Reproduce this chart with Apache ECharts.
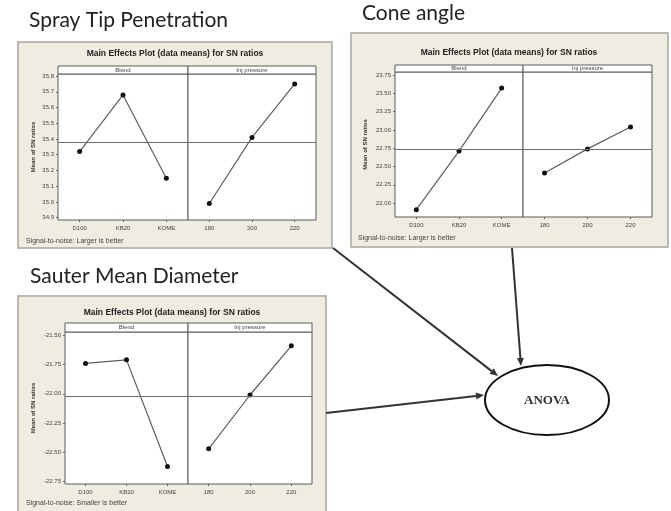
<!DOCTYPE html>
<html>
<head>
<meta charset="utf-8">
<script src="https://cdn.jsdelivr.net/npm/echarts@6/dist/echarts.min.js"></script>
<style>
  body { margin: 0; background: #fff; }
  #main { width: 671px; height: 511px; }
</style>
</head>
<body>
<div id="main"></div>
<script>
// factor levels
const blendLevels = ['D100', 'KB20', 'KOME']
const pressureLevels = ['180', '200', '220']

// SN ratio means
const stpBlend = [35.32, 35.68, 35.15]
const stpPressure = [34.99, 35.41, 35.75]
const coneBlend = [21.91, 22.71, 23.57]
const conePressure = [22.41, 22.74, 23.04]
const smdBlend = [-21.74, -21.71, -22.62]
const smdPressure = [-22.47, -22.01, -21.59]

// y tick labels
const stpTicks = [34.9, 35.0, 35.1, 35.2, 35.3, 35.4, 35.5, 35.6, 35.7, 35.8]
const coneTicks = [22.0, 22.25, 22.5, 22.75, 23.0, 23.25, 23.5, 23.75]
const smdTicks = [-22.75, -22.5, -22.25, -22.0, -21.75, -21.5]

const small = 'Liberation Sans'

function mean(arr) {
  return arr.reduce((a, b) => a + b, 0) / arr.length
}

// one panel = two grids (Blend | Inj pressure)
const panels = [
  {
    blend: stpBlend, pressure: stpPressure, ticks: stpTicks, dec: 1,
    min: 34.885, max: 35.813, gap: 22,
    left: { left: 58, top: 74, width: 130, height: 146 },
    right: { left: 188, top: 74, width: 128, height: 146 },
    stripTop: 66
  },
  {
    blend: coneBlend, pressure: conePressure, ticks: coneTicks, dec: 2,
    min: 21.81, max: 23.79, gap: 27,
    left: { left: 395, top: 72, width: 128, height: 145 },
    right: { left: 523, top: 72, width: 129, height: 145 },
    stripTop: 65
  },
  {
    blend: smdBlend, pressure: smdPressure, ticks: smdTicks, dec: 2,
    min: -22.77, max: -21.472, gap: 29,
    left: { left: 65, top: 332, width: 123, height: 152 },
    right: { left: 188, top: 332, width: 124, height: 152 },
    stripTop: 323
  }
]

const grid = []
const xAxis = []
const yAxis = []
const series = []
const graphic = []

panels.forEach((p, i) => {
  const grand = mean(p.blend.concat(p.pressure))
  ;[['left', p.blend, blendLevels], ['right', p.pressure, pressureLevels]].forEach((side, k) => {
    const idx = i * 2 + k
    grid.push(Object.assign({
      show: true, backgroundColor: '#fff', borderColor: '#5a5a5a', borderWidth: 1
    }, p[side[0]]))
    xAxis.push({
      type: 'category', gridIndex: idx, data: side[2], boundaryGap: true,
      axisLine: { show: false },
      axisTick: { show: true, alignWithLabel: true, length: 2, lineStyle: { color: '#666' } },
      axisLabel: { fontSize: 6, color: '#444', fontFamily: small, margin: 5 }
    })
    yAxis.push({
      type: 'value', gridIndex: idx, min: p.min, max: p.max, show: k === 0,
      name: k === 0 ? 'Mean of SN ratios' : '',
      nameLocation: 'middle', nameRotate: 90, nameGap: p.gap,
      nameTextStyle: { fontSize: 6, fontWeight: 'bold', color: '#333', fontFamily: small },
      splitLine: { show: false },
      axisLine: { show: false },
      axisTick: { show: true, length: 2, customValues: p.ticks, lineStyle: { color: '#666' } },
      axisLabel: {
        fontSize: 6, color: '#444', fontFamily: small, margin: 4,
        customValues: p.ticks,
        formatter: v => v.toFixed(p.dec)
      }
    })
    series.push({
      type: 'line', xAxisIndex: idx, yAxisIndex: idx, data: side[1],
      symbol: 'circle', symbolSize: 5, silent: true,
      lineStyle: { color: '#5e5e5e', width: 1.2 },
      itemStyle: { color: '#111' },
      markLine: {
        silent: true, symbol: 'none', label: { show: false },
        lineStyle: { color: '#6e6e6e', width: 1, type: 'solid' },
        data: [{ yAxis: grand }]
      }
    })
    // header strip above each grid
    const g = p[side[0]]
    graphic.push({
      type: 'rect', z: 5,
      shape: { x: g.left, y: p.stripTop, width: g.width, height: g.top - p.stripTop },
      style: { fill: '#fff', stroke: '#5a5a5a', lineWidth: 1 }
    })
    graphic.push({
      type: 'text', z: 6,
      style: {
        text: k === 0 ? 'Blend' : 'Inj pressure', x: g.left + g.width / 2,
        y: (p.stripTop + g.top) / 2, align: 'center', verticalAlign: 'middle',
        fontSize: 6, fill: '#444', fontFamily: small
      }
    })
  })
})

// panel frames, titles, footers
const frames = [
  { x: 18, y: 42, w: 314, h: 206, tx: 175, ty: 54, fx: 26, fy: 241, foot: 'Signal-to-noise: Larger is better' },
  { x: 351, y: 33, w: 317, h: 214, tx: 509, ty: 53, fx: 358, fy: 238, foot: 'Signal-to-noise: Larger is better' },
  { x: 18, y: 296, w: 308, h: 222, tx: 172, ty: 313, fx: 26, fy: 503, foot: 'Signal-to-noise: Smaller is better' }
]
frames.forEach(f => {
  graphic.push({
    type: 'rect', z: -10,
    shape: { x: f.x, y: f.y, width: f.w, height: f.h },
    style: { fill: '#efece2', stroke: '#a9a79e', lineWidth: 1.5 }
  })
  graphic.push({
    type: 'text', z: 6,
    style: {
      text: 'Main Effects Plot (data means) for SN ratios', x: f.tx, y: f.ty,
      align: 'center', verticalAlign: 'middle', fontSize: 8.5, fontWeight: 'bold',
      fill: '#222', fontFamily: small
    }
  })
  graphic.push({
    type: 'text', z: 6,
    style: {
      text: f.foot, x: f.fx, y: f.fy, align: 'left', verticalAlign: 'middle',
      fontSize: 7, fill: '#444', fontFamily: small
    }
  })
})

// big headings
;[['Spray Tip Penetration', 29, 31], ['Cone angle', 362, 24], ['Sauter Mean Diameter', 30, 287]].forEach(h => {
  graphic.push({
    type: 'text', z: 6,
    style: {
      text: h[0], x: h[1], y: h[2], align: 'left', verticalAlign: 'bottom',
      fontSize: 21, fill: '#222', fontFamily: 'Lato'
    }
  })
})

// arrows into ANOVA
function arrow(x1, y1, x2, y2) {
  const a = Math.atan2(y2 - y1, x2 - x1)
  const len = 8, wid = 3.5
  const bx = x2 - len * Math.cos(a), by = y2 - len * Math.sin(a)
  const px = -Math.sin(a) * wid, py = Math.cos(a) * wid
  graphic.push({
    type: 'line', z: 8,
    shape: { x1: x1, y1: y1, x2: bx, y2: by },
    style: { stroke: '#333', lineWidth: 2 }
  })
  graphic.push({
    type: 'polygon', z: 8,
    shape: { points: [[x2, y2], [bx + px, by + py], [bx - px, by - py]] },
    style: { fill: '#333' }
  })
}
arrow(333, 248, 498, 376)
arrow(512, 248, 521, 366)
arrow(326, 413, 484, 395)

graphic.push({
  type: 'ellipse', z: 9,
  shape: { cx: 547, cy: 400, rx: 62, ry: 35 },
  style: { fill: '#fff', stroke: '#111', lineWidth: 2 }
})
graphic.push({
  type: 'text', z: 10,
  style: {
    text: 'ANOVA', x: 547, y: 401, align: 'center', verticalAlign: 'middle',
    fontSize: 13, fontWeight: 'bold', fill: '#333', fontFamily: 'Liberation Serif'
  }
})

const chart = echarts.init(document.getElementById('main'))
chart.setOption({
  animation: false,
  backgroundColor: '#fff',
  grid: grid,
  xAxis: xAxis,
  yAxis: yAxis,
  series: series,
  graphic: graphic
})
</script>
</body>
</html>
